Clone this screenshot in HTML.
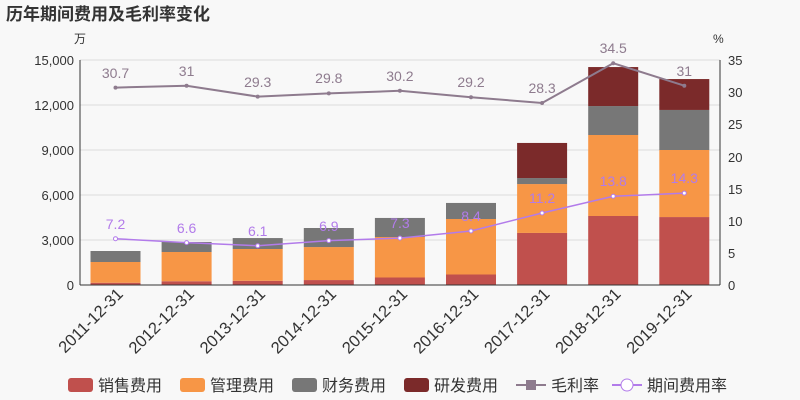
<!DOCTYPE html>
<html><head><meta charset="utf-8"><style>
body{margin:0;background:#f8f8f8;}
svg{display:block;font-family:"Liberation Sans","Noto Sans CJK SC",sans-serif;}
</style></head><body>
<svg width="800" height="400" xmlns="http://www.w3.org/2000/svg">
<rect width="800" height="400" fill="#f8f8f8"/>
<text x="6" y="20" font-size="17" font-weight="bold" fill="#333">历年期间费用及毛利率变化</text>
<text x="74" y="43" font-size="12" fill="#333">万</text>
<text x="713" y="43" font-size="12" fill="#333">%</text>
<g stroke="#ddd" stroke-width="1">
<line x1="80" y1="60" x2="720" y2="60"/><line x1="80" y1="105" x2="720" y2="105"/>
<line x1="80" y1="150" x2="720" y2="150"/><line x1="80" y1="195" x2="720" y2="195"/>
<line x1="80" y1="240" x2="720" y2="240"/>
</g>
<g font-size="13" fill="#333" text-anchor="end">
<text x="74" y="65">15,000</text><text x="74" y="110">12,000</text><text x="74" y="155">9,000</text>
<text x="74" y="200">6,000</text><text x="74" y="245">3,000</text><text x="74" y="290">0</text>
</g>
<g font-size="13" fill="#333">
<text x="728" y="65">35</text><text x="728" y="97">30</text><text x="728" y="129">25</text>
<text x="728" y="162">20</text><text x="728" y="194">15</text><text x="728" y="226">10</text>
<text x="728" y="258">5</text><text x="728" y="290">0</text>
</g>
<g>
<rect x="90.5" y="282.75" width="50" height="2.25" fill="#c0504d"/><rect x="90.5" y="262" width="50" height="20.75" fill="#f79646"/><rect x="90.5" y="251" width="50" height="11" fill="#777"/>
<rect x="161.6" y="281.25" width="50" height="3.75" fill="#c0504d"/><rect x="161.6" y="252" width="50" height="29.25" fill="#f79646"/><rect x="161.6" y="241.95" width="50" height="10.05" fill="#777"/>
<rect x="232.7" y="280.8" width="50" height="4.2" fill="#c0504d"/><rect x="232.7" y="249" width="50" height="31.8" fill="#f79646"/><rect x="232.7" y="238.05" width="50" height="10.95" fill="#777"/>
<rect x="303.8" y="280.05" width="50" height="4.95" fill="#c0504d"/><rect x="303.8" y="247.05" width="50" height="33" fill="#f79646"/><rect x="303.8" y="228" width="50" height="19.05" fill="#777"/>
<rect x="374.9" y="277.5" width="50" height="7.5" fill="#c0504d"/><rect x="374.9" y="237" width="50" height="40.5" fill="#f79646"/><rect x="374.9" y="217.95" width="50" height="19.05" fill="#777"/>
<rect x="446" y="274.5" width="50" height="10.5" fill="#c0504d"/><rect x="446" y="219" width="50" height="55.5" fill="#f79646"/><rect x="446" y="202.95" width="50" height="16.05" fill="#777"/>
<rect x="517.1" y="232.95" width="50" height="52.05" fill="#c0504d"/><rect x="517.1" y="184.05" width="50" height="48.9" fill="#f79646"/><rect x="517.1" y="178.05" width="50" height="6" fill="#777"/><rect x="517.1" y="142.95" width="50" height="35.1" fill="#7b2a2a"/>
<rect x="588.2" y="216" width="50" height="69" fill="#c0504d"/><rect x="588.2" y="135" width="50" height="81" fill="#f79646"/><rect x="588.2" y="106.05" width="50" height="28.95" fill="#777"/><rect x="588.2" y="67.05" width="50" height="39" fill="#7b2a2a"/>
<rect x="659.3" y="217.05" width="50" height="67.95" fill="#c0504d"/><rect x="659.3" y="150" width="50" height="67.05" fill="#f79646"/><rect x="659.3" y="109.95" width="50" height="40.05" fill="#777"/><rect x="659.3" y="79.05" width="50" height="30.9" fill="#7b2a2a"/>
</g>
<line x1="80" y1="60" x2="80" y2="285" stroke="#333"/>
<line x1="720" y1="60" x2="720" y2="285" stroke="#333"/>
<line x1="80" y1="285" x2="720" y2="285" stroke="#333"/>
<polyline points="115.5,87.6 186.6,85.7 257.7,96.6 328.8,93.4 399.9,90.8 471,97.2 542.1,103 613.2,63.2 684.3,85.7" fill="none" stroke="#8e7b8e" stroke-width="2"/>
<polyline points="115.5,238.7 186.6,242.6 257.7,245.8 328.8,240.6 399.9,238.1 471,231 542.1,213 613.2,196.3 684.3,193.1" fill="none" stroke="#b27bea" stroke-width="1.5"/>
<g fill="#8e7b8e">
<circle cx="115.5" cy="87.6" r="2"/><circle cx="186.6" cy="85.7" r="2"/><circle cx="257.7" cy="96.6" r="2"/><circle cx="328.8" cy="93.4" r="2"/><circle cx="399.9" cy="90.8" r="2"/><circle cx="471" cy="97.2" r="2"/><circle cx="542.1" cy="103" r="2"/><circle cx="613.2" cy="63.2" r="2"/><circle cx="684.3" cy="85.7" r="2"/>
</g>
<g fill="#fff" stroke="#b27bea">
<circle cx="115.5" cy="238.7" r="2"/><circle cx="186.6" cy="242.6" r="2"/><circle cx="257.7" cy="245.8" r="2"/><circle cx="328.8" cy="240.6" r="2"/><circle cx="399.9" cy="238.1" r="2"/><circle cx="471" cy="231" r="2"/><circle cx="542.1" cy="213" r="2"/><circle cx="613.2" cy="196.3" r="2"/><circle cx="684.3" cy="193.1" r="2"/>
</g>
<g font-size="14" fill="#8e7b8e" text-anchor="middle">
<text x="115.5" y="78">30.7</text><text x="186.6" y="76">31</text><text x="257.7" y="87">29.3</text><text x="328.8" y="83">29.8</text><text x="399.9" y="81">30.2</text><text x="471" y="87">29.2</text><text x="542.1" y="93">28.3</text><text x="613.2" y="53">34.5</text><text x="684.3" y="76">31</text>
</g>
<g font-size="14" fill="#b27bea" text-anchor="middle">
<text x="115.5" y="229">7.2</text><text x="186.6" y="233">6.6</text><text x="257.7" y="236">6.1</text><text x="328.8" y="231">6.9</text><text x="399.9" y="228">7.3</text><text x="471" y="221">8.4</text><text x="542.1" y="203">11.2</text><text x="613.2" y="186">13.8</text><text x="684.3" y="183">14.3</text>
</g>
<g font-size="16.5" fill="#333" text-anchor="end">
<text transform="translate(124,295) rotate(-45)">2011-12-31</text>
<text transform="translate(195.1,295) rotate(-45)">2012-12-31</text>
<text transform="translate(266.2,295) rotate(-45)">2013-12-31</text>
<text transform="translate(337.3,295) rotate(-45)">2014-12-31</text>
<text transform="translate(408.4,295) rotate(-45)">2015-12-31</text>
<text transform="translate(479.5,295) rotate(-45)">2016-12-31</text>
<text transform="translate(550.6,295) rotate(-45)">2017-12-31</text>
<text transform="translate(621.7,295) rotate(-45)">2018-12-31</text>
<text transform="translate(692.8,295) rotate(-45)">2019-12-31</text>
</g>
<g font-size="16" fill="#333">
<rect x="68" y="378" width="25" height="14" rx="3" fill="#c0504d"/><text x="98" y="391">销售费用</text>
<rect x="180" y="378" width="25" height="14" rx="3" fill="#f79646"/><text x="210" y="391">管理费用</text>
<rect x="292" y="378" width="25" height="14" rx="3" fill="#777"/><text x="322" y="391">财务费用</text>
<rect x="404" y="378" width="25" height="14" rx="3" fill="#7b2a2a"/><text x="434" y="391">研发费用</text>
<line x1="516" y1="385" x2="546" y2="385" stroke="#8e7b8e" stroke-width="2"/><rect x="526" y="380" width="10" height="10" fill="#8e7b8e"/><text x="551" y="391">毛利率</text>
<line x1="612" y1="385" x2="642" y2="385" stroke="#b27bea" stroke-width="2"/><circle cx="627" cy="385" r="6" fill="#fff" stroke="#b27bea"/><text x="647" y="391">期间费用率</text>
</g>
</svg>
</body></html>
